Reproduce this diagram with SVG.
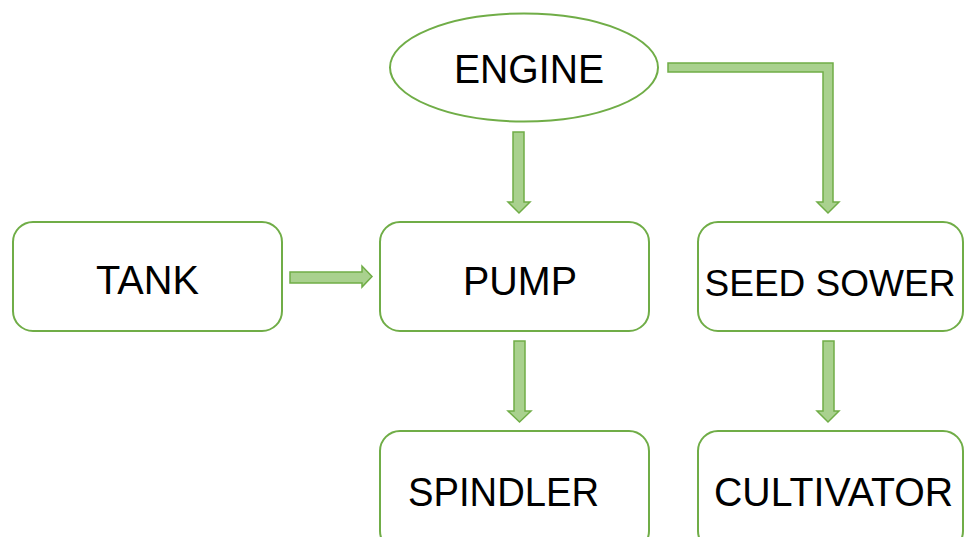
<svg xmlns="http://www.w3.org/2000/svg" width="965" height="537" viewBox="0 0 965 537">
<style>
.node{fill:#ffffff;stroke:#70ad47;stroke-width:2}
.lbl{font-family:"Liberation Sans",Arial,sans-serif;font-size:41px;fill:#000000;text-anchor:middle}
.arr{fill:#a9d18e;stroke:#70ad47;stroke-width:1.5;stroke-linejoin:miter}
</style>
<rect width="965" height="537" fill="#ffffff"/>
<g id="connectors">
<path class="arr" d="M513,132 H524 V202 H530 L519,213 L508,202 H513 Z"/>
<path class="arr" d="M290,272 H362 V266 L372,276.5 L362,287 V283 H290 Z"/>
<path class="arr" d="M668,63 H833 V202 H839 L828,213 L817,202 H823 V72 H668 Z"/>
<path class="arr" d="M514,341 H525 V411 H531 L519.5,422 L508,411 H514 Z"/>
<path class="arr" d="M823,341 H834 V411 H839 L828,422 L817,411 H823 Z"/>
</g>
<g id="engine">
<ellipse class="node" cx="524" cy="67.5" rx="134" ry="54"/>
<text class="lbl" x="529" y="83" textLength="150" lengthAdjust="spacingAndGlyphs">ENGINE</text>
</g>
<g id="tank">
<rect class="node" x="13" y="222" width="269" height="109" rx="20"/>
<text class="lbl" x="147.5" y="294" textLength="103" lengthAdjust="spacingAndGlyphs">TANK</text>
</g>
<g id="pump">
<rect class="node" x="380" y="222" width="269" height="109" rx="20"/>
<text class="lbl" x="520" y="295" textLength="114" lengthAdjust="spacingAndGlyphs">PUMP</text>
</g>
<g id="seed-sower">
<rect class="node" x="698" y="222" width="265" height="109" rx="20"/>
<text class="lbl" x="830" y="296" style="font-size:37px">SEED SOWER</text>
</g>
<g id="spindler">
<rect class="node" x="380" y="431" width="269" height="120" rx="20"/>
<text class="lbl" x="503.5" y="506" textLength="191" lengthAdjust="spacingAndGlyphs">SPINDLER</text>
</g>
<g id="cultivator">
<rect class="node" x="698" y="431" width="265" height="120" rx="20"/>
<text class="lbl" x="833.5" y="506" textLength="239" lengthAdjust="spacingAndGlyphs">CULTIVATOR</text>
</g>
</svg>
